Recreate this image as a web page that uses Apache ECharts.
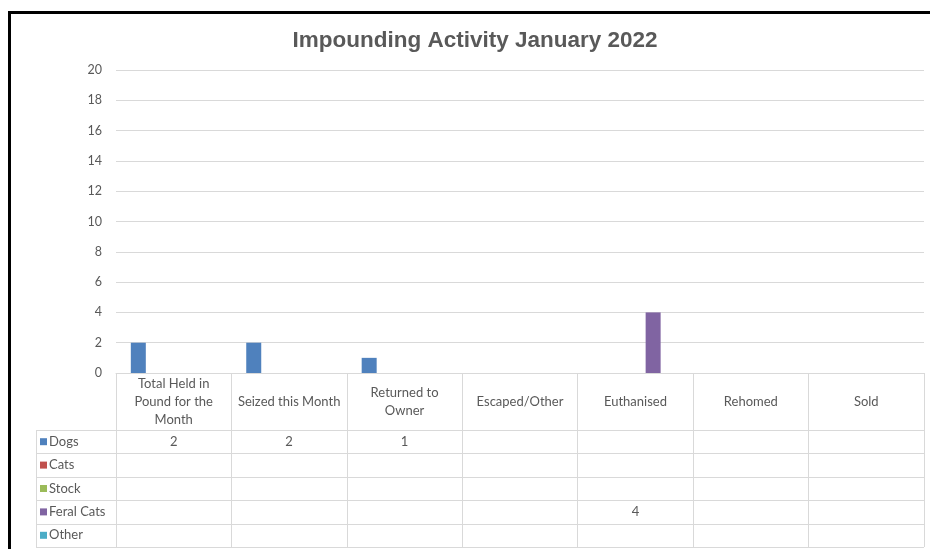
<!DOCTYPE html>
<html>
<head>
<meta charset="utf-8">
<script src="https://cdn.jsdelivr.net/npm/echarts@6/dist/echarts.min.js"></script>
<style>html,body{margin:0;padding:0;background:#fff;}#c{width:930px;height:549px;}</style>
</head>
<body>
<div id="c"></div>
<script>
const categories = ['Total Held in\nPound for the\nMonth', 'Seized this Month', 'Returned to\nOwner', 'Escaped/Other', 'Euthanised', 'Rehomed', 'Sold'];
const seriesNames = ['Dogs', 'Cats', 'Stock', 'Feral Cats', 'Other'];
const dogs = [2, 2, 1, null, null, null, null];
const cats = [null, null, null, null, null, null, null];
const stock = [null, null, null, null, null, null, null];
const feralCats = [null, null, null, null, 4, null, null];
const other = [null, null, null, null, null, null, null];
const yTicks = [0, 2, 4, 6, 8, 10, 12, 14, 16, 18, 20];
const colors = ['#4F81BD', '#C0504D', '#9BBB59', '#8064A2', '#4BACC6'];

const seriesData = [dogs, cats, stock, feralCats, other];
const FONT = 'Lato';
const TXT = '#595959';
const GRIDC = '#d9d9d9';

const gridLeft = 116, gridRight = 6, gridTop = 70, gridBottom = 176;
const W = 930, H = 549;
const tableTop = H - gridBottom;
const headerH = 57;
const rowH = 23.4;
const legendColLeft = 36;

const chart = echarts.init(document.getElementById('c'));
const option = {
  animation: false,
  backgroundColor: '#fff',
  title: {
    text: 'Impounding Activity January 2022',
    left: 470, top: 24, textAlign: 'center',
    textStyle: { fontFamily: 'Liberation Sans', fontWeight: 'bold', fontSize: 22.5, color: TXT }
  },
  grid: { left: gridLeft, right: gridRight, top: gridTop, bottom: gridBottom, containLabel: false },
  xAxis: {
    type: 'category', data: categories,
    axisLine: { show: true, lineStyle: { color: GRIDC, width: 1 } },
    axisTick: { show: true, length: H - 2 - tableTop, lineStyle: { color: GRIDC } },
    axisLabel: {
      interval: 0, margin: headerH / 2, verticalAlign: 'middle', lineHeight: 18,
      fontFamily: FONT, fontSize: 13, color: TXT
    },
    splitLine: { show: false }
  },
  yAxis: {
    type: 'value', min: yTicks[0], max: yTicks[yTicks.length - 1], interval: yTicks[1] - yTicks[0],
    axisLine: { show: false }, axisTick: { show: false },
    axisLabel: { fontFamily: FONT, fontSize: 12.5, color: TXT, margin: 14 },
    splitLine: { lineStyle: { color: GRIDC, width: 1 } }
  },
  series: seriesNames.map((n, i) => ({
    name: n, type: 'bar', data: seriesData[i], barWidth: 15, barGap: '18%',
    itemStyle: { color: colors[i] }
  }))
};
chart.setOption(option);

// Data table drawn below the plot, positioned from the category axis
const g = [];
const tableRight = W - gridRight;
const rowsTop = tableTop + headerH;
for (let r = 0; r <= seriesNames.length; r++) {
  const y = Math.round(rowsTop + r * rowH) + 0.5;
  g.push({ type: 'line', shape: { x1: legendColLeft, y1: y, x2: tableRight, y2: y }, style: { stroke: GRIDC, lineWidth: 1 }, silent: true });
}
g.push({ type: 'line', shape: { x1: legendColLeft + 0.5, y1: rowsTop, x2: legendColLeft + 0.5, y2: rowsTop + seriesNames.length * rowH }, style: { stroke: GRIDC, lineWidth: 1 }, silent: true });
seriesNames.forEach((n, r) => {
  const cy = rowsTop + r * rowH + rowH / 2;
  g.push({ type: 'rect', shape: { x: 40, y: cy - 3.5, width: 7, height: 7 }, style: { fill: colors[r] }, silent: true });
  g.push({ type: 'text', x: 49, y: cy, style: { text: n, fill: TXT, font: '13px ' + FONT, textVerticalAlign: 'middle', textAlign: 'left' }, silent: true });
  seriesData[r].forEach((v, c) => {
    if (v === null || v === undefined) return;
    const px = chart.convertToPixel({ xAxisIndex: 0 }, c);
    g.push({ type: 'text', x: px, y: cy, style: { text: String(v), fill: TXT, font: '13px ' + FONT, textAlign: 'center', textVerticalAlign: 'middle' }, silent: true });
  });
});
// outer frame (black border top and left)
g.push({ type: 'line', shape: { x1: 9, y1: 12.5, x2: W, y2: 12.5 }, style: { stroke: '#000', lineWidth: 3 }, silent: true });
g.push({ type: 'line', shape: { x1: 9.5, y1: 11, x2: 9.5, y2: H }, style: { stroke: '#000', lineWidth: 3 }, silent: true });
chart.setOption({ graphic: g });
</script>
</body>
</html>
